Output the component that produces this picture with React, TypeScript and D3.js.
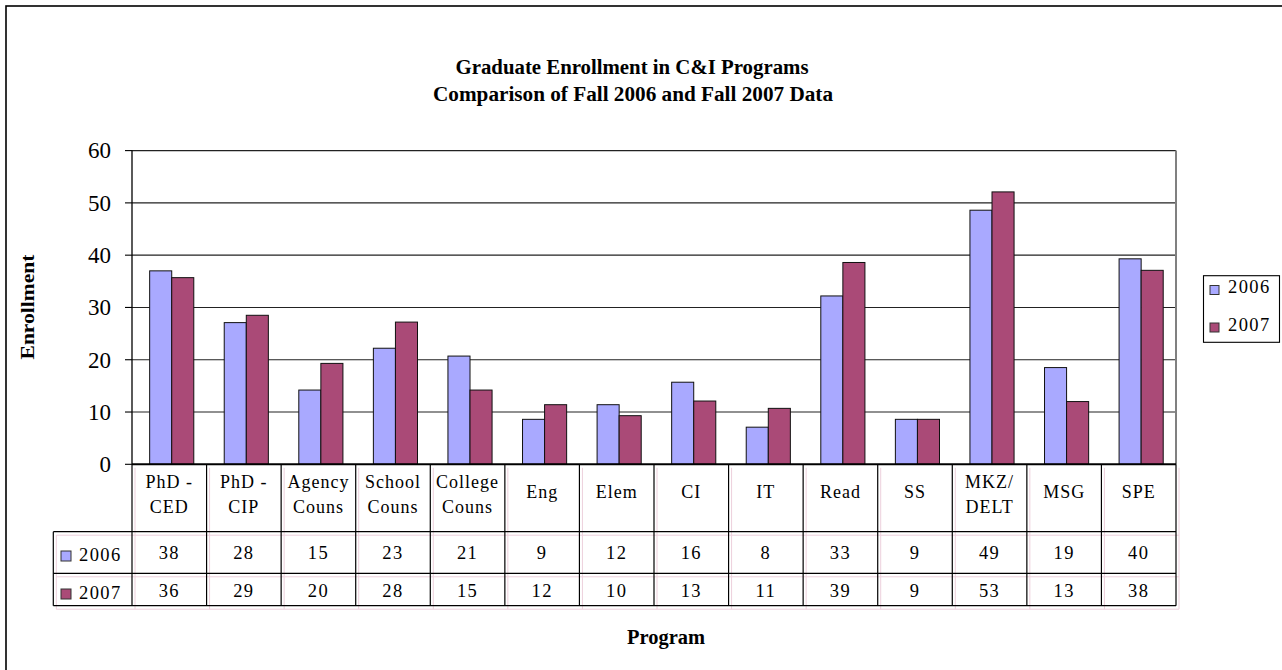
import React from 'react';
import * as d3 from 'd3';

// program labels (two lines where the table wraps them)
const programs = [
  'PhD - CED', 'PhD - CIP', 'Agency Couns', 'School Couns', 'College Couns',
  'Eng', 'Elem', 'CI', 'IT', 'Read', 'SS', 'MKZ/ DELT', 'MSG', 'SPE'
];
const programLines = [
  ['PhD -', 'CED'], ['PhD -', 'CIP'], ['Agency', 'Couns'], ['School', 'Couns'], ['College', 'Couns'],
  ['Eng'], ['Elem'], ['CI'], ['IT'], ['Read'], ['SS'], ['MKZ/', 'DELT'], ['MSG'], ['SPE']
];

const seriesNames = ['2006', '2007'];

// bar heights as drawn
const bars2006 = [37.0, 27.1, 14.2, 22.2, 20.7, 8.6, 11.4, 15.7, 7.1, 32.2, 8.6, 48.6, 18.5, 39.3];
const bars2007 = [35.7, 28.5, 19.3, 27.2, 14.2, 11.4, 9.3, 12.1, 10.7, 38.6, 8.6, 52.1, 12.0, 37.1];

// values printed in the data table
const table2006 = [38, 28, 15, 23, 21, 9, 12, 16, 8, 33, 9, 49, 19, 40];
const table2007 = [36, 29, 20, 28, 15, 12, 10, 13, 11, 39, 9, 53, 13, 38];

const yTicks = [0, 10, 20, 30, 40, 50, 60];

const colors = { '2006': '#A9A9FF', '2007': '#AA4A77' };
const serif = '"Liberation Serif", "Times New Roman", Times, serif';

export default function App() {
  const W = 1282;
  const H = 670;
  const plot = { left: 132, right: 1176, top: 150.6, bottom: 464.3 };
  const headerBottom = 531.7;
  const row1Bottom = 573.3;
  const row2Bottom = 605.7;
  const legendColLeft = 53.3;

  const y = d3.scaleLinear().domain([0, 60]).range([plot.bottom, plot.top]);
  const x0 = d3.scaleBand<string>().domain(programs).range([plot.left, plot.right]);
  const x1 = d3.scaleBand<string>()
    .domain(seriesNames)
    .range([0, x0.bandwidth()])
    .paddingOuter(0.69)
    .align(0.58);

  const barData = programs.flatMap((p, i) => [
    { p, s: '2006', v: bars2006[i] },
    { p, s: '2007', v: bars2007[i] }
  ]);

  const colEdges = programs.map(p => x0(p) as number).concat([plot.right]);
  const pink = '#EDD0DC';
  const ghost = { dx: 3, dy: 3.5 };

  const tableLines = (stroke: string, dx: number, dy: number, sw: number) => (
    <g stroke={stroke} strokeWidth={sw} fill="none" transform={`translate(${dx},${dy})`}>
      {colEdges.map((cx, i) => (
        <line key={'v' + i} x1={cx} x2={cx} y1={plot.bottom} y2={row2Bottom} />
      ))}
      <line x1={legendColLeft} x2={legendColLeft} y1={headerBottom} y2={row2Bottom} />
      <line x1={legendColLeft} x2={plot.right} y1={headerBottom} y2={headerBottom} />
      <line x1={legendColLeft} x2={plot.right} y1={row1Bottom} y2={row1Bottom} />
      <line x1={legendColLeft} x2={plot.right} y1={row2Bottom} y2={row2Bottom} />
    </g>
  );

  return (
    <svg
      width={W}
      height={H}
      style={{ position: 'absolute', left: 0, top: 0, background: '#fff', fontFamily: serif }}
    >
      <rect x={0} y={0} width={W} height={H} fill="#fff" />
      {/* chart frame */}
      <rect x={6} y={6} width={W + 20} height={H + 20} fill="none" stroke="#000" strokeWidth={1.6} />

      {/* title */}
      <text x={632} y={74} textAnchor="middle" fontWeight="bold" fontSize={20} textLength={353} lengthAdjust="spacingAndGlyphs">
        Graduate Enrollment in C&amp;I Programs
      </text>
      <text x={633} y={101} textAnchor="middle" fontWeight="bold" fontSize={20} textLength={400} lengthAdjust="spacingAndGlyphs">
        Comparison of Fall 2006 and Fall 2007 Data
      </text>

      {/* gridlines */}
      <g stroke="#222" strokeWidth={1.1}>
        {yTicks.filter(t => t > 0).map(t => (
          <line key={t} x1={plot.left} x2={plot.right} y1={y(t)} y2={y(t)} />
        ))}
      </g>
      <line x1={plot.right} x2={plot.right} y1={plot.top} y2={plot.bottom} stroke="#808080" strokeWidth={2} />

      {/* bars */}
      <g stroke="#111" strokeWidth={1}>
        {barData.map((d, i) => {
          const bx = (x0(d.p) as number) + (x1(d.s) as number);
          return (
            <rect
              key={i}
              x={bx}
              y={y(d.v)}
              width={x1.bandwidth()}
              height={y(0) - y(d.v)}
              fill={colors[d.s as '2006' | '2007']}
            />
          );
        })}
      </g>

      {/* y axis */}
      <line x1={plot.left} x2={plot.left} y1={plot.top} y2={plot.bottom} stroke="#000" strokeWidth={1.3} />
      <g stroke="#000" strokeWidth={1.1}>
        {yTicks.map(t => (
          <line key={t} x1={plot.left - 7} x2={plot.left} y1={y(t)} y2={y(t)} />
        ))}
      </g>
      <g fontSize={23} textAnchor="end">
        {yTicks.map(t => (
          <text key={t} x={111} y={y(t)} dy="0.34em">{t}</text>
        ))}
      </g>
      <text
        transform="translate(34,307) rotate(-90)"
        textAnchor="middle"
        fontWeight="bold"
        fontSize={19}
        textLength={105}
        lengthAdjust="spacingAndGlyphs"
      >
        Enrollment
      </text>

      {/* data table */}
      {tableLines(pink, ghost.dx, ghost.dy, 1)}
      {tableLines('#000', 0, 0, 1.2)}
      <line x1={plot.left} x2={plot.right} y1={plot.bottom} y2={plot.bottom} stroke="#000" strokeWidth={2} />

      <g fontSize={18} textAnchor="middle" letterSpacing={1}>
        {programLines.map((lines, i) => {
          const cx = (x0(programs[i]) as number) + x0.bandwidth() / 2;
          if (lines.length === 1) {
            return <text key={i} x={cx} y={498}>{lines[0]}</text>;
          }
          return (
            <g key={i}>
              <text x={cx} y={488}>{lines[0]}</text>
              <text x={cx} y={513}>{lines[1]}</text>
            </g>
          );
        })}
      </g>
      <g fontSize={18.5} textAnchor="middle" letterSpacing={1.4}>
        {programs.map((p, i) => {
          const cx = (x0(p) as number) + x0.bandwidth() / 2;
          return (
            <g key={p}>
              <text x={cx} y={559}>{table2006[i]}</text>
              <text x={cx} y={597}>{table2007[i]}</text>
            </g>
          );
        })}
      </g>

      {/* table legend keys */}
      {seriesNames.map((s, i) => {
        const cy = i === 0 ? 556 : 594;
        return (
          <g key={s}>
            <rect x={61} y={cy - 5} width={10} height={10} fill={colors[s as '2006' | '2007']} stroke="#333" strokeWidth={1} />
            <text x={79} y={cy + 5} fontSize={18.5} letterSpacing={1.4}>{s}</text>
          </g>
        );
      })}

      {/* legend */}
      <rect x={1203.5} y={275.7} width={76} height={66.6} fill="#fff" stroke="#000" strokeWidth={1.1} />
      {seriesNames.map((s, i) => {
        const cy = i === 0 ? 290 : 327.5;
        return (
          <g key={s}>
            <rect x={1210} y={cy - 4.5} width={9} height={9} fill={colors[s as '2006' | '2007']} stroke="#333" strokeWidth={1} />
            <text x={1228} y={cy + 3} fontSize={18.5} letterSpacing={1.4}>{s}</text>
          </g>
        );
      })}

      {/* x axis title */}
      <text x={666} y={644} textAnchor="middle" fontWeight="bold" fontSize={20} textLength={78} lengthAdjust="spacingAndGlyphs">
        Program
      </text>
    </svg>
  );
}
